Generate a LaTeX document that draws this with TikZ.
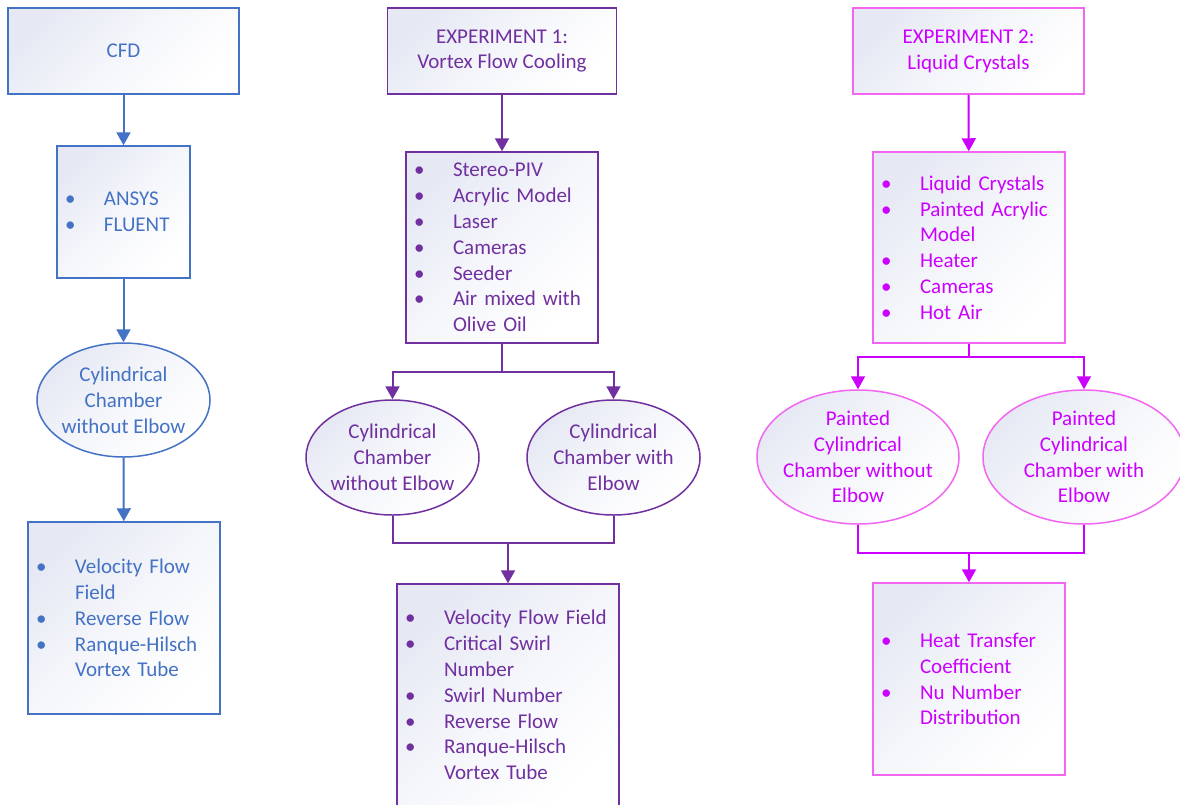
\documentclass[tikz,border=0pt]{standalone}
\usepackage{fontspec}
\setmainfont{Carlito}
\usetikzlibrary{shapes.geometric,arrows.meta}
\definecolor{cblue}{HTML}{4472C4}
\definecolor{cpurple}{HTML}{7030A0}
\definecolor{cmag}{HTML}{CC00FF}
\definecolor{cmagl}{HTML}{F266F2}
\definecolor{gradc}{HTML}{E6E9F4}
\newcommand{\bi}[1]{\mbox{\makebox[39pt][l]{\textbullet}#1}}
\newcommand{\ct}[1]{\mbox{\hspace*{39pt}#1}}
\tikzset{
  base/.style={font=\fontsize{21}{25.8}\selectfont, line width=1.5pt,
    top color=gradc, bottom color=white, middle color={gradc!40!white}, shading angle=45},
  rbox/.style 2 args={base, rectangle, inner sep=0pt, minimum width=#1pt, minimum height=#2pt, align=center},
  lbox/.style 2 args={base, rectangle, inner ysep=0pt, inner xsep=8pt, minimum width=#1pt, minimum height=#2pt, text width=#1pt-16pt, align=left},
  ebox/.style 2 args={base, ellipse, inner sep=-30pt, minimum width=#1pt, minimum height=#2pt, align=center},
  arr/.style={line width=2pt, -{Triangle[length=13pt,width=14pt]}},
  ln/.style={line width=2pt},
  colb/.style={draw=cblue, text=cblue},
  colp/.style={draw=cpurple, text=cpurple},
  colm/.style={draw=cmagl, text=cmag},
}
\begin{document}
\begin{tikzpicture}[x=1pt,y=-1pt]
\useasboundingbox (0,0) rectangle (1180,804);
\clip (0,0) rectangle (1180,804);
% Column 1
\node[rbox={231}{86}, colb] (cfd) at (123.5,51) {CFD};
\node[lbox={133}{132}, colb] (ansys) at (123.5,212) {\bi{ANSYS}\\\bi{FLUENT}};
\node[ebox={173}{114}, colb] (e1) at (123.5,400) {Cylindrical\\Chamber\\without Elbow};
\node[lbox={192}{192}, colb] (r1) at (124,618) {\bi{Velocity Flow}\\\ct{Field}\\\bi{Reverse Flow}\\\bi{Ranque-Hilsch}\\\ct{Vortex Tube}};
\draw[arr, cblue] (cfd) -- (ansys);
\draw[arr, cblue] (ansys) -- (e1);
\draw[arr, cblue] (e1) -- (r1);
% Column 2
\node[rbox={229}{86}, colp] (x1) at (502,51) {EXPERIMENT 1:\\Vortex Flow Cooling};
\node[lbox={192}{191}, colp] (b2) at (502,247.5) {\bi{Stereo-PIV}\\\bi{Acrylic Model}\\\bi{Laser}\\\bi{Cameras}\\\bi{Seeder}\\\bi{Air mixed with}\\\ct{Olive Oil}};
\node[ebox={173}{115}, colp] (e21) at (392.5,457.5) {Cylindrical\\Chamber\\without Elbow};
\node[ebox={173}{115}, colp] (e22) at (613.5,457.5) {Cylindrical\\Chamber with\\Elbow};
\node[lbox={222}{222}, colp] (r2) at (508,695) {\bi{Velocity Flow Field}\\\bi{Critical Swirl}\\\ct{Number}\\\bi{Swirl Number}\\\bi{Reverse Flow}\\\bi{Ranque-Hilsch}\\\ct{Vortex Tube}};
\coordinate (j1) at (502,372);
\coordinate (j2) at (508,543);
\draw[arr, cpurple] (x1) -- (b2);
\draw[ln, cpurple] (b2) -- (j1);
\draw[arr, cpurple] (j1) -| (e21);
\draw[arr, cpurple] (j1) -| (e22);
\draw[ln, cpurple] (e21.south) -- (e21.south |- j2) -- (e22.south |- j2) -- (e22.south);
\draw[arr, cpurple] (j2) -- (r2);
% Column 3
\node[rbox={231}{86}, colm] (x2) at (968.5,51) {EXPERIMENT 2:\\Liquid Crystals};
\node[lbox={192}{191}, colm] (b3) at (969,247.5) {\bi{Liquid Crystals}\\\bi{Painted Acrylic}\\\ct{Model}\\\bi{Heater}\\\bi{Cameras}\\\bi{Hot Air}};
\node[ebox={202}{134}, colm] (e31) at (858,457) {Painted\\Cylindrical\\Chamber without\\Elbow};
\node[ebox={202}{134}, colm] (e32) at (1084,457) {Painted\\Cylindrical\\Chamber with\\Elbow};
\node[lbox={192}{192}, colm] (r3) at (969,679) {\bi{Heat Transfer}\\\ct{Coefficient}\\\bi{Nu Number}\\\ct{Distribution}};
\coordinate (j3) at (969,357);
\coordinate (j4) at (969,553);
\draw[arr, cmag] (x2) -- (b3);
\draw[ln, cmag] (b3) -- (j3);
\draw[arr, cmag] (j3) -| (e31);
\draw[arr, cmag] (j3) -| (e32);
\draw[ln, cmag] (e31.south) -- (e31.south |- j4) -- (e32.south |- j4) -- (e32.south);
\draw[arr, cmag] (j4) -- (r3);
\end{tikzpicture}
\end{document}
